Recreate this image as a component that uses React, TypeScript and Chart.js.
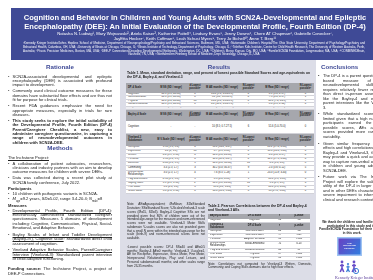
import React, { useEffect, useRef } from "react";
import { Chart, registerables } from "chart.js";
Chart.register(...registerables);

// ---------- data ----------
const titleLines = [
  "Cognition and Behavior in Children and Young Adults with SCN2A-Developmental and Epileptic",
  "Encephalopathy (DEE): An Initial Evaluation of the Developmental Profile, Fourth Edition (DP-4)",
];
const authorLines = [
  "Natasha N. Ludwig¹, Mary Wojnaroski², Ariela Kaiser³, Katherine Pattell⁴, Lindsey Evans⁵, Jenny Downs⁶, Chere AT Chapman⁶, Gabrielle Conecker⁷,",
  "JayEtta Hecker⁷, Keith Coffman⁸, Leah Schust Myers⁹, Terry Jo Bichell¹⁰, Anne T. Berg¹¹",
];
const affiliations =
  "¹Kennedy Krieger Institute/Johns Hopkins School of Medicine, Department of Neuropsychology/Psychiatry and Behavioral Sciences, Baltimore, MD, USA; ²Nationwide Children's Hospital/The Ohio State University, Department of Psychology/Psychiatry and Behavioral Health, Columbus, OH, USA; ³University of Illinois at Chicago, Chicago, IL; ⁴Illinois Institute of Technology, Department of Psychology, Chicago, IL; ⁵Telethon Kids Institute, Centre for Child Health Research, The University of Western Australia, Perth, Australia; ⁶Praxis Precision Medicines, Boston, MA, USA; ⁷DEE-P Connections/Decoding Developmental Epilepsies, Washington, DC, USA; ⁸Children's Mercy Kansas City, MO, USA; ⁹FamilieSCN2A Foundation, Longmeadow, MA, USA; ¹⁰COMBINEDBrain, Nashville, TN, USA; ¹¹Northwestern Feinberg School of Medicine, Dept. Neurology, Chicago, IL, USA";

const rationale = [
  "SCN2A-associated developmental and epileptic encephalopathy (DEE) is associated with profound impact to development.",
  "Commonly used clinical outcome measures for these domains have substantial floor effects and are thus not fit for purpose for clinical trials.",
  "Recent FDA guidances emphasize the need for appropriate measures, especially in trials for rare diseases.",
];
const rationaleBold =
  "This study seeks to explore the initial suitability of the Developmental Profile, Fourth Edition (DP-4) Parent/Caregiver Checklist, a new, easy to administer caregiver questionnaire, in capturing a range of neurodevelopmental outcomes in children with SCN2A-DEE.";
const projectBullets = [
  "A collaboration of patient advocates, researchers, clinicians and industry partners with an aim to develop outcome measures for children with severe DEEs.",
  "Data was collected during a recent pilot study at SCN2A family conference, July 2022.",
];
const measures = [
  ["Developmental Profile, Fourth Edition (DP-4)", ": Electronically administered standardized caregiver questionnaire. Measures 5 domains of development including: Cognitive, Communication, Physical, Social-Emotional, and Adaptive Behavior."],
  ["Bayley Scales of Infant and Toddler Development (Bayley-IV), Cognitive scale", ": Standardized direct child assessment of cognition."],
  ["Vineland Adaptive Behavior Scales, Parent/Caregiver Interview (Vineland-3)", ": Standardized parent interview of child adaptive functioning."],
];

// Table 1
const t1Header = ["M SS (SD / range)", "# Lowest possible¹", "M AE months (SD / range)", "N Lowest possible¹", "M Raw (SD / range)", "N Lowest possible¹"];
const vHeader = ["M V-Scale (SD / range)", "# Lowest possible¹", "M AE months (SD / range)", "N Lowest possible¹", "M Raw (SD / range)", "N Lowest possible¹"];
const dp4Scales = ["Cognition", "Communication", "Physical", "Social-Emotional", "Adaptive Behavior"];
const dp4SS = ["41.3 (3.5; 40-50)", "41.3 (3.1; 40-50)", "40.0 (0.0; 40-40)", "43.5 (5.5; 40-55)", "41.40 (3.6; 40-52)"];
const dp4SSLow = ["8", "8", "10", "8", "9"];
const dp4AE = ["13.6 (9.6; 0.3-28.5)", "9.2 (8.2; 0.3-23.5)", "13.4 (8.4; 0.3-28.5)", "6.2 (10.0; 0.3-29.5)", "14.1 (12.0; 0.3-38.5)"];
const dp4AELow = ["2", "2", "2", "7", "2"];
const dp4Raw = ["8.1 (3.6; 2-17)", "7.5 (6.0; 0-17)", "10.0 (7.4; 0-21)", "8.0 (8.5; 2-50)", "9.5 (7.1; 0-50)"];
const dp4RawLow = ["0", "1", "1", "0", "0"];
const bayleyRow = ["Cognition", "-", "-", "10 (8.5; 0.7-27.5)", "6", "51.6 (5.0-70.0)", "0"];
const vinScales = ["Receptive", "Expressive", "Written", "Personal", "Domestic", "Community", "Interpersonal Relationships", "Play and Leisure", "Coping Skills", "Fine Motor", "Gross Motor"];
const vinV = ["1.90 (1.3; 1-6)", "1.0 (0; 1-1)", "4.4 (3.9; 1-13)", "1.90 (2.4; 1-9)", "4.80 (2.0; 1-9)", "3.4 (2.5; 1-7)", "3.0 (2.5; 1-7)", "2.90 (2.1; 1-8)", "5.1 (4.1; 1-13)", "3.0 (2.0; 1-6)", "3.0 (2.0; 1-10)"];
const vinVLow = ["6", "10", "4", "6", "3", "3", "4", "5", "2", "5", "4"];
const vinAE = ["11.2 (14.0; 0-47)", "8.7 (8.5; 0-25)", "30.6 (8.0; 24-58)", "12.0 (12.0; 0-27)", "30.6 (0.0; 30-30)", "30.2 (0.0; 30-37)", "7.6 (8.5; 1-28)", "8.5 (4.0; 0-21)", "31.8 (3.8; 24-38)", "11.4 (8.0; 1-26)", "14.0 (10.0; 1-40)"];
const vinAELow = ["1", "2", "4", "2", "10", "9", "1", "1", "10", "0", "0"];
const vinRaw = ["21.2 (17.4; 0-54)", "18.0 (16.4; 1-40)", "4.6 (6.0; 0-17)", "30.1 (17.3; 0-60)", "0.6 (1.0; 0-3)", "2.0 (3.6; 0-12)", "20.3 (11.8; 3-44)", "13.0 (9.5; 1-31)", "1.6 (2.9; 0-9)", "15.0 (9.5; 4-35)", "33 (27.0; 3-80)"];
const vinRawLow = ["0", "0", "4", "0", "8", "5", "0", "0", "6", "0", "0"];

// Table 2
const t2Measure = ["Cognition", "Receptive", "Expressive", "Personal", "Interpersonal Relationships", "Play and Leisure", "Fine Motor", "Gross Motor"];
const t2Dp4 = ["Cognition", "Communication", "Communication", "Adaptive Behavior", "Social-Emotional", "Social-Emotional", "Physical", "Physical"];
const t2R = [".96", ".86", ".77", ".92", ".71", ".60", ".97", ".92"];
const t2P = [".00", ".00", ".009", "<.001", "0.23", ".07", "<.001", "<.001"];

const conclusions = [
  "The DP-4 is a parent questionnaire-based measure of child neurodevelopmental skills that requires relatively fewer resources than direct in-person assessments like the Bayley-4 and extensive parent interviews like the Vineland-3.",
  "While standardized scores were limited given that a high number of participants earned the lowest possible scores, AEs and raw scores provided more range and variability.",
  "Given similar frequency of floor effects and high correlations with the Bayley-4 and Vineland-3, the DP-4 may provide a quick and accessible way to capture non-verbal outcomes in children and young adults with SCN2A-DEE.",
  "Future work via The Inchstone Project will explore the validity and utility of the DP-4 in larger samples and in other DEEs characterized by severe impairment to inform use in clinical and research contexts.",
];

// ---------- styling helpers ----------
const BLUE = "#3f4a96";
const PANEL = "#dcdde7";
const HEAD = "#a6a7ad";

const abs = (left: number, top: number, width: number, extra: any = {}) => ({
  position: "absolute" as const,
  left,
  top,
  width,
  ...extra,
});

const posterPlugin = {
  id: "posterBackground",
  beforeDraw(chart: any) {
    const ctx = chart.ctx as CanvasRenderingContext2D;
    ctx.save();
    ctx.fillStyle = "#ffffff";
    ctx.fillRect(0, 0, chart.width, chart.height);
    ctx.fillStyle = BLUE;
    ctx.fillRect(11, 8, 380, 52);
    ctx.fillStyle = PANEL;
    ctx.fillRect(120, 60, 196, 220);
    // Inchstone logo
    ctx.fillStyle = "#9fc3f2";
    ctx.fillRect(337, 237, 25, 19);
    const g = ctx.createLinearGradient(338, 238, 361, 255);
    g.addColorStop(0, "#6a3fc2");
    g.addColorStop(1, "#2f7fe0");
    ctx.fillStyle = g;
    ctx.fillRect(338.5, 238.5, 22, 16);
    // figures
    const fig = (x: number, y: number, c: string, s: number) => {
      ctx.fillStyle = c;
      ctx.strokeStyle = c;
      ctx.lineWidth = 1.6 * s;
      ctx.beginPath();
      ctx.arc(x, y, 1.4 * s, 0, Math.PI * 2);
      ctx.fill();
      ctx.beginPath();
      ctx.moveTo(x, y + 2 * s);
      ctx.lineTo(x, y + 6 * s);
      ctx.moveTo(x, y + 6 * s);
      ctx.lineTo(x - 1.8 * s, y + 10 * s);
      ctx.moveTo(x, y + 6 * s);
      ctx.lineTo(x + 1.8 * s, y + 10 * s);
      ctx.moveTo(x - 2 * s, y + 3.5 * s);
      ctx.lineTo(x + 2 * s, y + 3.5 * s);
      ctx.stroke();
    };
    fig(342, 262, "#6a4fc8", 1);
    fig(348, 264, "#3b7fd6", 0.8);
    fig(354, 262, "#6a4fc8", 1);
    ctx.strokeStyle = "#3b7fd6";
    ctx.lineWidth = 1;
    ctx.beginPath();
    ctx.arc(356, 271, 2.6, 0, Math.PI * 2);
    ctx.stroke();
    ctx.restore();
  },
};

const Bullet = ({ children, gap = 2, dot = 4.5 }: any) => (
  <div style={{ position: "relative", paddingLeft: dot, marginBottom: gap }}>
    <span style={{ position: "absolute", left: 0, top: 0 }}>•</span>
    {children}
  </div>
);

const cellBase = {
  boxSizing: "border-box" as const,
  display: "flex",
  alignItems: "center",
  justifyContent: "center",
  textAlign: "center" as const,
  overflow: "hidden",
  padding: "0 0.5px",
};

const Row = ({ cells, widths, h, bg = "#fff", bold = false, border = true }: any) => (
  <div style={{ display: "flex", height: h, background: bg, boxSizing: "border-box", borderBottom: border ? "1px solid #d2d2d8" : "none" }}>
    {cells.map((c: string, i: number) => (
      <div
        key={i}
        style={{
          ...cellBase,
          width: widths[i],
          fontWeight: bold ? 700 : 400,
          justifyContent: i === 0 ? "flex-start" : "center",
          textAlign: i === 0 ? "left" : "center",
          paddingLeft: i === 0 ? 2 : 0.5,
        }}
      >
        {c}
      </div>
    ))}
  </div>
);

const T1W = [30, 30, 18, 36, 17, 40, 17];
const T2W = [30, 33, 17, 22];

export default function App() {
  const ref = useRef<HTMLCanvasElement>(null);
  useEffect(() => {
    const chart = new Chart(ref.current!, {
      type: "bar",
      data: { labels: [], datasets: [] },
      options: {
        responsive: false,
        animation: false,
        events: [],
        plugins: { legend: { display: false }, tooltip: { enabled: false } },
        scales: { x: { display: false }, y: { display: false } },
      },
      plugins: [posterPlugin],
    });
    return () => chart.destroy();
  }, []);

  const secHead = (text: string, left: number, top: number, width: number) => (
    <div style={abs(left, top, width, { textAlign: "center", color: BLUE, fontWeight: 700, fontSize: 6.2, lineHeight: "8px" })}>{text}</div>
  );
  const sub = { fontSize: 2.6, lineHeight: 0 };

  return (
    <div
      style={{
        position: "fixed",
        left: 0,
        top: 0,
        width: 373,
        height: 280,
        overflow: "hidden",
        background: "#fff",
        fontFamily: "'Liberation Sans', Arial, sans-serif",
        color: "#222",
      }}
    >
      <canvas ref={ref} width={373} height={280} style={{ position: "absolute", left: 0, top: 0 }} />

      {/* banner */}
      <div style={abs(0, 12.6, 390, { textAlign: "center", color: "#fff", fontWeight: 700, fontSize: 7.55, lineHeight: "9px", whiteSpace: "nowrap" })}>
        {titleLines[0]}
        <br />
        {titleLines[1]}
      </div>
      <div style={abs(0, 30.7, 390, { textAlign: "center", color: "#fff", fontSize: 4.2, lineHeight: "5.3px", whiteSpace: "nowrap" })}>
        {authorLines[0]}
        <br />
        {authorLines[1]}
      </div>
      <div style={abs(23, 42.4, 342, { textAlign: "justify", textAlignLast: "center", color: "#fff", fontSize: 2.95, lineHeight: "3.6px" })}>
        {affiliations}
      </div>

      {/* left column */}
      {secHead("Rationale", 8, 62.5, 104)}
      <div style={abs(8, 74.5, 104, { fontSize: 4.1, lineHeight: "4.3px", textAlign: "justify" })}>
        {rationale.map((t, i) => (
          <Bullet key={i}>{t}</Bullet>
        ))}
        <Bullet>
          <b>{rationaleBold}</b>
        </Bullet>
      </div>
      {secHead("Methods", 8, 144, 104)}
      <div style={abs(8, 156, 104, { fontSize: 4.1, lineHeight: "4.3px", textAlign: "justify" })}>
        <div style={{ marginBottom: 1.5, textDecoration: "underline" }}>The Inchstone Project:</div>
        {projectBullets.map((t, i) => (
          <Bullet key={i} gap={1.8}>{t}</Bullet>
        ))}
        <div style={{ fontWeight: 700, marginBottom: 1 }}>Participants</div>
        <Bullet gap={0.5}>10 children with pathogenic variants in SCN2A.</Bullet>
        <Bullet gap={1.8}>
          <i>M</i>
          <sub style={sub}>age</sub>=9.2 years, <i>SD</i>=5.02, range 3.4-20.4; <i>N</i>
          <sub style={sub}>male</sub>=8
        </Bullet>
        <div style={{ fontWeight: 700, marginBottom: 1 }}>Measures</div>
        {measures.map((m, i) => (
          <Bullet key={i} gap={2.6}>
            <u>{m[0]}</u>
            {m[1]}
          </Bullet>
        ))}
        <div style={{ marginTop: 6 }}>
          <b>Funding source:</b> The Inchstone Project, a project of DEE-P Connections.
        </div>
      </div>

      {/* middle column */}
      {secHead("Results", 122, 62.5, 194)}
      <div style={abs(127, 70.8, 188, { fontSize: 3.4, lineHeight: "4px", fontWeight: 700 })}>
        Table 1. Mean, standard deviation, range, and percent of lowest possible Standard Scores and age-equivalents on the DP-4, Bayley-4, and Vineland-3
      </div>
      <div style={abs(126, 83, 188, { fontSize: 2.6, lineHeight: "2.9px", background: "#fff" })}>
        <Row cells={["DP-4 Scale", ...t1Header]} widths={T1W} h={10} bg={HEAD} bold border={false} />
        {dp4Scales.map((s, i) => (
          <Row
            key={s}
            cells={[s, dp4SS[i], dp4SSLow[i], dp4AE[i], dp4AELow[i], dp4Raw[i], dp4RawLow[i]]}
            widths={T1W}
            h={3.4}
            bg={i === 4 ? "#eeeef2" : "#fff"}
          />
        ))}
        <Row cells={["Bayley-4 Scale", ...t1Header]} widths={T1W} h={11} bg={HEAD} bold border={false} />
        <Row cells={bayleyRow} widths={T1W} h={13} />
        <Row cells={["Vineland-3 Subdomain", ...vHeader]} widths={T1W} h={12} bg={HEAD} bold border={false} />
        {vinScales.map((s, i) => (
          <Row
            key={s}
            cells={[s, vinV[i], vinVLow[i], vinAE[i], vinAELow[i], vinRaw[i], vinRawLow[i]]}
            widths={T1W}
            h={s === "Interpersonal Relationships" ? 7.5 : 4.1}
          />
        ))}
      </div>
      <div style={abs(127, 203.3, 78, { fontSize: 3.05, lineHeight: "3.75px", textAlign: "justify" })}>
        <div style={{ marginBottom: 5 }}>
          <i>Note.</i> AE=Age-equivalent; <i>M</i>=Mean; <i>SD</i>=Standard Deviation; SS=Standard Score; V-Scale=Vineland-3 scale scores (<i>M</i>=15, <i>SD</i>=3). Bayley-4 Cognitive SSs are not provided given that 80% of children were out of the intended age-range for the measure and norm-referenced scores were not available. Vineland-3 Motor Skills subdomain V-scales scores are also not provided given that a small <i>N</i> were within the intended age-range for the scale (birth-9) and norm-referenced scores were not available.
        </div>
        <div>
          ¹Lowest possible scores: DP-4 SS=40 and AE=0.5 months; Bayley-4 AE=0 months; Vineland-3 V-scale=1, AE for Receptive, Expressive, Gross Motor, Fine Motor, Interpersonal Relationships, Play and Leisure, and Personal subdomains=0 months; and other scales range from 23-35 months.
        </div>
      </div>
      <div style={abs(208, 203.5, 104, { fontSize: 3.4, lineHeight: "4.2px", fontWeight: 700 })}>
        Table 2. Pearson Correlations between the DP-4 and Bayley-4 and Vineland-3 AEs
      </div>
      <div style={abs(208, 214, 102, { fontSize: 2.6, lineHeight: "2.9px", background: "#fff" })}>
        <Row cells={["Bayley-4 Score", "DP-4 Scale", "r", "p-value"]} widths={T2W} h={5} bg={HEAD} bold border={false} />
        <Row cells={[t2Measure[0], t2Dp4[0], t2R[0], t2P[0]]} widths={T2W} h={4} />
        <Row cells={["Vineland-3 Subdomain", "DP-4 Scale", "r", "p-value"]} widths={T2W} h={7} bg={HEAD} bold border={false} />
        {t2Measure.slice(1).map((m, j) => {
          const i = j + 1;
          return (
            <Row key={m} cells={[m, t2Dp4[i], t2R[i], t2P[i]]} widths={T2W} h={m === "Interpersonal Relationships" ? 6.5 : 4} />
          );
        })}
      </div>
      <div style={abs(208, 262.5, 104, { fontSize: 3.05, lineHeight: "3.75px", textAlign: "justify" })}>
        <i>Note.</i> Correlations not computed for Vineland-3 Written, Domestic, Community, and Coping Skills domains due to high floor effects.
      </div>

      {/* right column */}
      <div style={abs(321, 62.5, 70, { color: BLUE, fontWeight: 700, fontSize: 6.2, lineHeight: "8px", whiteSpace: "nowrap" })}>Conclusions</div>
      <div style={abs(318, 74.2, 70, { fontSize: 4, lineHeight: "4.5px", textAlign: "justify" })}>
        {conclusions.map((t, i) => (
          <Bullet key={i} gap={2.2} dot={5}>
            {t}
          </Bullet>
        ))}
      </div>
      <div style={abs(318, 221, 68, { fontSize: 3.2, lineHeight: "3.5px", fontWeight: 700, textAlign: "center" })}>
        We thank the children and families who participated in this study and the FamilieSCN2A Foundation for their support in this work.
      </div>
      <div style={abs(338.5, 241.5, 22, { fontSize: 2.2, lineHeight: "2.6px", fontWeight: 700, color: "#fff", textAlign: "center" })}>
        THE
        <br />
        INCHSTONE
        <br />
        PROJECT
      </div>
      <div style={abs(326, 274.5, 60, { fontSize: 4, lineHeight: "5px", color: "#5a3d9a", fontFamily: "'Liberation Serif', serif", textAlign: "center", whiteSpace: "nowrap" })}>
        Kennedy Krieger Institute
      </div>
    </div>
  );
}
